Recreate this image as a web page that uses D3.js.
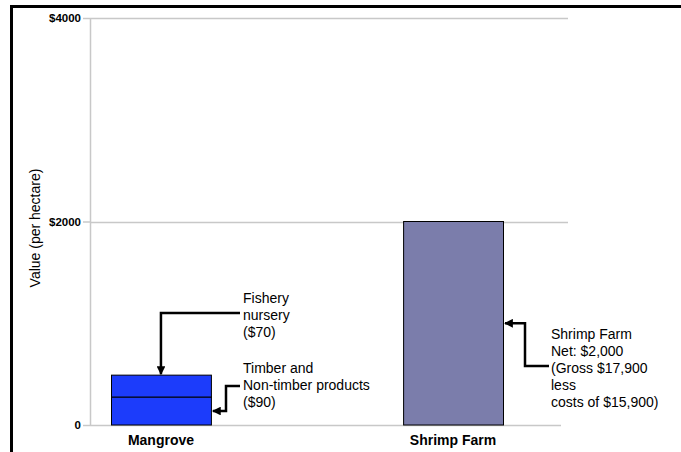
<!DOCTYPE html>
<html>
<head>
<meta charset="utf-8">
<script src="https://cdn.jsdelivr.net/npm/d3@7"></script>
<style>
  html, body { margin: 0; padding: 0; background: #fff; }
  svg { display: block; font-family: "Liberation Sans", Arial, sans-serif; }
</style>
</head>
<body>
<svg id="chart" width="681" height="452"></svg>
<script>
// ---- data ----
const categories = ["Mangrove", "Shrimp Farm"];
const mangroveSegmentNames = ["Timber and Non-timber products", "Fishery nursery"];
const mangroveValues = [275, 215];          // drawn heights (stacked)
const shrimpValues = [2000];
const yTicks = [0, 2000, 4000];
const yTickLabels = ["0", "$2000", "$4000"];
const yTitle = "Value (per hectare)";
const fisheryNote = ["Fishery", "nursery", "($70)"];
const timberNote = ["Timber and", "Non-timber products", "($90)"];
const shrimpNote = ["Shrimp Farm", "Net: $2,000", "(Gross $17,900", "less", "costs of $15,900)"];

// ---- setup ----
const svg = d3.select("#chart");
const W = 681, H = 452;
const axisX = 90;

const y = d3.scaleLinear().domain([0, 4000]).range([425, 18]);
const x = d3.scaleBand().domain(categories).range([111, 503]).paddingInner(0.658);

// frame
svg.append("rect").attr("x", 11.5).attr("y", 6.5).attr("width", W + 20).attr("height", H + 20)
  .attr("fill", "none").attr("stroke", "#000").attr("stroke-width", 3);

// markers
const defs = svg.append("defs");
defs.append("marker").attr("id", "arr").attr("viewBox", "0 0 10 10")
  .attr("refX", 9).attr("refY", 5).attr("markerWidth", 3.5).attr("markerHeight", 3.5)
  .attr("orient", "auto-start-reverse").attr("markerUnits", "strokeWidth")
  .append("path").attr("d", "M0,0 L10,5 L0,10 z").attr("fill", "#000");

// gridlines
const grid = svg.append("g");
grid.selectAll("line").data(yTicks).join("line")
  .attr("x1", axisX).attr("x2", d => d === 0 ? 561 : 568)
  .attr("y1", d => Math.round(y(d)) + 0.5).attr("y2", d => Math.round(y(d)) + 0.5)
  .attr("stroke", "#c8c8c8").attr("stroke-width", 1.5);

// y axis
const yAxis = d3.axisLeft(y).tickValues(yTicks).tickSize(7).tickPadding(2)
  .tickFormat((d, i) => yTickLabels[i]);
const ga = svg.append("g").attr("transform", `translate(${axisX},0)`).call(yAxis);
ga.select(".domain").attr("stroke", "#c8c8c8").attr("stroke-width", 1.5)
  .attr("d", `M0.5,${y(4000)}V${y(0)}`);
ga.selectAll(".tick line").attr("stroke", "#c8c8c8").attr("stroke-width", 1.5);
ga.selectAll(".tick text").attr("font-family", "Liberation Sans, Arial, sans-serif")
  .attr("font-size", 11.5).attr("font-weight", "bold").attr("fill", "#000");

// y title
svg.append("text").attr("transform", `translate(40,${228}) rotate(-90)`)
  .attr("text-anchor", "middle").attr("font-size", 14).attr("fill", "#000").text(yTitle);

// mangrove stacked bar
const stacked = [];
let acc = 0;
mangroveValues.forEach((v, i) => { stacked.push({ name: mangroveSegmentNames[i], y0: acc, y1: acc + v }); acc += v; });
svg.append("g").selectAll("rect").data(stacked).join("rect")
  .attr("x", x("Mangrove") + 0.5).attr("width", x.bandwidth())
  .attr("y", d => y(d.y1)).attr("height", d => y(d.y0) - y(d.y1))
  .attr("fill", "#1c3cfb").attr("stroke", "#000").attr("stroke-width", 1);

// shrimp bar
svg.append("g").selectAll("rect").data(shrimpValues).join("rect")
  .attr("x", x("Shrimp Farm") + 0.5).attr("width", x.bandwidth())
  .attr("y", d => y(d)).attr("height", d => y(0) - y(d))
  .attr("fill", "#7b7dab").attr("stroke", "#000").attr("stroke-width", 1);

// category labels
svg.append("g").selectAll("text").data(categories).join("text")
  .attr("x", d => x(d) + x.bandwidth() / 2).attr("y", 445)
  .attr("text-anchor", "middle").attr("font-size", 14).attr("font-weight", "bold")
  .attr("fill", "#000").text(d => d);

// annotations
function note(lines, x0, yFirst) {
  const t = svg.append("text").attr("font-size", 14).attr("fill", "#000");
  lines.forEach((l, i) => t.append("tspan").attr("x", x0).attr("y", yFirst + i * 17).text(l));
}
function connector(points) {
  svg.append("path").attr("d", d3.line()(points)).attr("fill", "none")
    .attr("stroke", "#000").attr("stroke-width", 2.5).attr("marker-end", "url(#arr)");
}

const mCx = x("Mangrove") + x.bandwidth() / 2;
const mR = x("Mangrove") + x.bandwidth();
const sR = x("Shrimp Farm") + x.bandwidth();
const mangroveTotal = d3.sum(mangroveValues);

note(fisheryNote, 243, 303);
connector([[240, 313], [mCx, 313], [mCx, y(mangroveTotal) - 1]]);

note(timberNote, 243, 373);
connector([[240, 386], [226, 386], [226, y(mangroveValues[0] / 2)], [mR + 2, y(mangroveValues[0] / 2)]]);

note(shrimpNote, 551, 339);
connector([[549, 366], [525, 366], [525, y(shrimpValues[0] / 2)], [sR + 2, y(shrimpValues[0] / 2)]]);
</script>
</body>
</html>
